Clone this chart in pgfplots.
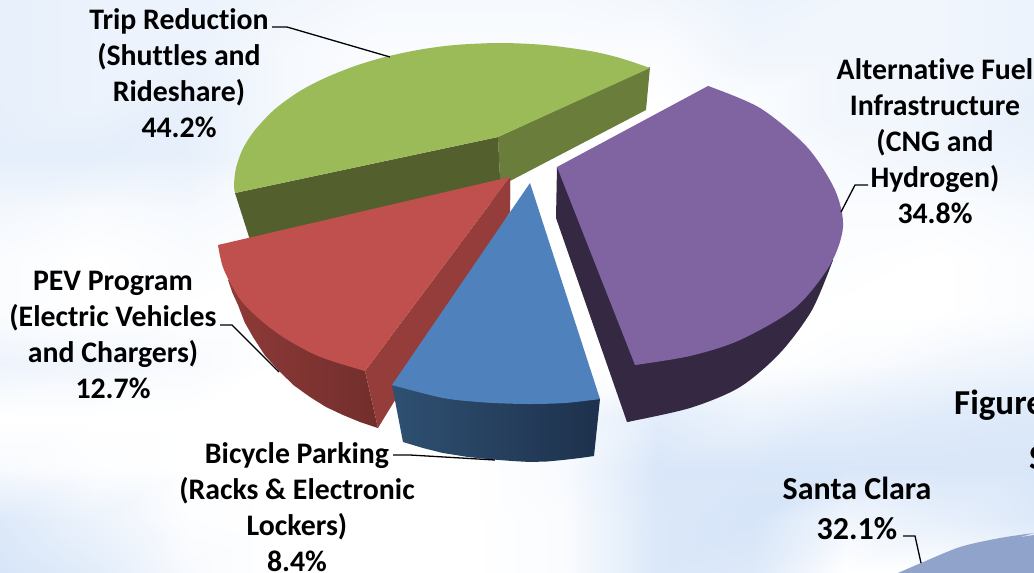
\documentclass[border=0pt]{standalone}
\usepackage{pgfplots}
\pgfplotsset{compat=1.18}
\usepackage{fontspec}
\setmainfont{Carlito}[Ligatures=NoCommon]
\definecolor{grnT}{HTML}{9BBB59}
\definecolor{grnL}{HTML}{535F2D}
\definecolor{grnR}{HTML}{6A7D3A}
\definecolor{redT}{HTML}{C0504D}
\definecolor{redW}{HTML}{953D3A}
\definecolor{redA}{HTML}{8E3A38}
\definecolor{redB}{HTML}{722E2C}
\definecolor{bluT}{HTML}{4F81BD}
\definecolor{bluA}{HTML}{2F5072}
\definecolor{bluB}{HTML}{1D314C}
\definecolor{purT}{HTML}{8064A2}
\definecolor{purW}{HTML}{352843}
\definecolor{scT}{HTML}{8FA3CB}
\tikzset{lab/.style={align=center,text=black,inner sep=0pt,font=\fontsize{29.8}{36}\selectfont\bfseries}}
\begin{document}
\begin{tikzpicture}
\useasboundingbox (0,0) rectangle (1034pt,573pt);
\clip (0,0) rectangle (1034pt,573pt);
\begin{axis}[at={(0,0)},anchor=south west,scale only axis,width=1034pt,height=573pt,
  xmin=0,xmax=1034,ymin=0,ymax=573,y dir=reverse,axis lines=none,clip=false,
  colormap={sky}{rgb255(0)=(207,224,247) rgb255(1)=(255,255,255)},
  point meta min=0,point meta max=1,
  leader/.style={black,line width=1.3pt,no marks},
  poly/.style={draw=none,no marks}]
% sky background: whiteness on a coarse grid
\addplot[surf,shader=interp,mesh/cols=12,point meta=\thisrow{m}] table {
x y m
0 0 .5
94 0 .6
188 0 .6
282 0 .7
376 0 .8
470 0 .8
564 0 .8
658 0 .75
752 0 .6
846 0 .7
940 0 .7
1034 0 .6
0 52 .5
94 52 .6
188 52 .6
282 52 .8
376 52 .9
470 52 .9
564 52 .9
658 52 .9
752 52 .7
846 52 .7
940 52 .7
1034 52 .6
0 104 .5
94 104 .6
188 104 .5
282 104 .8
376 104 .9
470 104 .9
564 104 .9
658 104 1
752 104 .9
846 104 .7
940 104 .7
1034 104 .5
0 156 .45
94 156 .45
188 156 .5
282 156 .8
376 156 .9
470 156 .9
564 156 1
658 156 1
752 156 .9
846 156 .8
940 156 .7
1034 156 .6
0 208 .75
94 208 .85
188 208 .8
282 208 .9
376 208 1
470 208 1
564 208 1
658 208 1
752 208 1
846 208 .9
940 208 .9
1034 208 .8
0 260 .9
94 260 1
188 260 .9
282 260 1
376 260 1
470 260 1
564 260 1
658 260 1
752 260 1
846 260 .95
940 260 1
1034 260 .9
0 312 .9
94 312 1
188 312 1
282 312 1
376 312 1
470 312 1
564 312 1
658 312 1
752 312 1
846 312 1
940 312 1
1034 312 .9
0 364 .65
94 364 .7
188 364 .85
282 364 1
376 364 1
470 364 1
564 364 1
658 364 1
752 364 1
846 364 .9
940 364 .75
1034 364 .65
0 416 1
94 416 1
188 416 1
282 416 1
376 416 1
470 416 1
564 416 .8
658 416 .4
752 416 .6
846 416 .45
940 416 .35
1034 416 .3
0 468 .85
94 468 .95
188 468 1
282 468 1
376 468 1
470 468 1
564 468 .85
658 468 .2
752 468 .2
846 468 .2
940 468 .2
1034 468 .2
0 520 .3
94 520 .6
188 520 .95
282 520 1
376 520 1
470 520 1
564 520 .9
658 520 .25
752 520 .15
846 520 .7
940 520 .5
1034 520 .3
0 573 .15
94 573 .4
188 573 .85
282 573 1
376 573 1
470 573 1
564 573 .9
658 573 .25
752 573 .3
846 573 1
940 573 1
1034 573 .8
};
% Trip Reduction 44.2%
\addplot[poly,fill=grnR] coordinates {(498,137)(650,67)(646,110)(510,181)(500,178)};
\addplot[poly,fill=grnL] coordinates {(235,193)(498,137)(500,178)(510,181)(510,200)(250,240)};
\addplot[poly,fill=grnT,smooth] coordinates {(650,68)(620,58)(590,51)(545,45)(500,43)(455,45)(420,49.6)(385,57)(355,66)(325,78)(300,91)(275,109)(255,130)(243,148.5)(236,168)(234,185)(235,193)};
\addplot[poly,fill=grnT] coordinates {(498,137)(650,68)(590,54)(500,46)(420,52)(355,69)(300,94)(258,132)(238,170)(235,193)};
% PEV Program 12.7%
\addplot[poly,left color=redA,right color=redB] coordinates {(228,280)(232.5,293)(238,305)(244.5,322)(253,337)(265,355.5)(280,372)(294,385.5)(310,397)(326,407)(343,415)(360,422)(378,428)(365,371)(300,330)(240,280)};
\addplot[poly,fill=redW] coordinates {(510,177)(510,212)(378,428)(365,371)};
\addplot[poly,fill=redT,smooth] coordinates {(218,245)(224,270)(243,303)(277,333)(318,356)(365,371)};
\addplot[poly,fill=redT] coordinates {(510,177)(218,245)(226,268)(245,300)(279,330)(320,353)(365,371)};
% Bicycle Parking 8.4%
\addplot[poly,left color=bluA,right color=bluB] coordinates {(392,385)(403,442)(423,448)(443,453)(468,457)(493,459.5)(512,461)(530,462)(547,461.5)(563,460)(580,458)(594,456)(600,399)(500,390)};
\addplot[poly,fill=bluT,smooth] coordinates {(392,385)(443,398)(485,402.5)(527,404)(565,403)(600,399)};
\addplot[poly,fill=bluT] coordinates {(530,183)(600,399)(565,401)(527,402)(485,400)(443,396)(392,385)};
% Alternative Fuel 34.8%
\addplot[poly,fill=purW,smooth] coordinates {(627,422)(690,408)(740,387)(780,353)(812,310)(833,260)};
\addplot[poly,fill=purW] coordinates {(557,167)(556,218)(627,422)(688,406)(738,385)(778,351)(809,309)(833,260)(800,200)(635,300)};
\addplot[poly,fill=purT,smooth] coordinates {(708,86)(760,108)(807,147)(835,190)(843,227)(830,265)(795,308)(740,340)(690,356)(635,365)};
\addplot[poly,fill=purT] coordinates {(557,167)(708,86)(758,109)(805,148)(833,191)(841,227)(828,264)(793,306)(738,338)(688,354)(635,365)};
% Santa Clara 32.1%
\addplot[poly,fill=scT,smooth] coordinates {(898,573)(921,563)(960,547)(1000,538)(1034,533)};
\addplot[poly,fill=scT] coordinates {(898,573)(921,565)(960,549)(1000,540)(1034,535)(1034,573)};
% leaders
\addplot[leader] coordinates {(272,27)(287,27)(390,57)};
\addplot[leader] coordinates {(220,325)(232,325)(279,372)};
\addplot[leader] coordinates {(393,455)(410,455)(495,460)};
\addplot[leader] coordinates {(868,185)(855,185)(841,212)};
\addplot[leader] coordinates {(903,536)(915,536)(921,563)};
% labels
\node[lab] at (axis cs:179,73) {Trip Reduction\\(Shuttles and\\Rideshare)\\44.2\%};
\node[lab] at (axis cs:935,141) {Alternative Fuel\\Infrastructure\\(CNG and\\Hydrogen)\\34.8\%};
\node[lab] at (axis cs:113,335) {PEV Program\\(Electric Vehicles\\and Chargers)\\12.7\%};
\node[lab] at (axis cs:297,507) {Bicycle Parking\\(Racks \& Electronic\\Lockers)\\8.4\%};
\node[lab,font=\fontsize{32}{40}\selectfont\bfseries] at (axis cs:857,508) {Santa Clara\\32.1\%};
\node[lab,anchor=west,font=\fontsize{35}{36}\selectfont\bfseries] at (axis cs:954,405) {Figure};
\node[lab,anchor=west,font=\fontsize{35}{36}\selectfont\bfseries] at (axis cs:1029,458) {S};
\end{axis}
\end{tikzpicture}
\end{document}
